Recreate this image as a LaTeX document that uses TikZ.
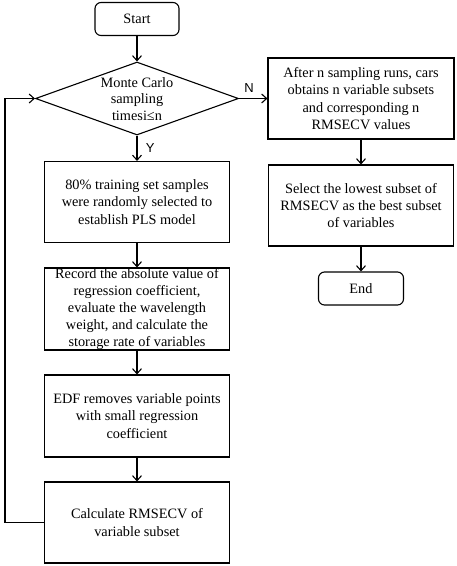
\documentclass[tikz,border=0pt]{standalone}
\usepackage{fontspec}
\setmainfont{Liberation Serif}
\newfontfamily\yesnofont{Liberation Sans}
\usetikzlibrary{calc,shapes,arrows.meta}
\tikzstyle{procbox}=[rectangle,draw=black,fill=white,line width=1.1pt,
                     minimum width=185pt,minimum height=81pt,inner sep=0pt,
                     align=center,font=\fontsize{14.3}{17.2}\selectfont]
\tikzstyle{termbox}=[rectangle,rounded corners=6pt,draw=black,fill=white,
                     line width=1.1pt,minimum width=84pt,minimum height=33pt,
                     font=\fontsize{14.3}{17.2}\selectfont]
\tikzstyle{decision}=[diamond,draw=black,fill=white,line width=1.1pt,
                      minimum width=203pt,minimum height=73pt,inner sep=0pt]
\tikzstyle{flow}=[-{Straight Barb[length=5pt,width=9pt]},line width=1.1pt]
\tikzstyle{yesno}=[font=\yesnofont\fontsize{13}{15}\selectfont]
\newcommand\leftcol{137}
\newcommand\rightcol{361}

\begin{document}
\begin{tikzpicture}[x=1pt,y=-1pt]
    \useasboundingbox (0,0) rectangle (457,566);
    % left column
    \node [termbox] (start) at (\leftcol,19) {Start};
    \node [decision] (mc) at (\leftcol,98.5) {};
    \node [align=center,font=\fontsize{14.3}{16.7}\selectfont] (mctext) at (\leftcol,99) {
        Monte Carlo\\sampling\\timesi≤n
    };
    \node [procbox] (sample) at (\leftcol,202) {
        80\% training set samples\\were randomly selected to\\establish PLS model
    };
    \node [procbox,minimum height=82pt,inner ysep=-4pt] (record) at (\leftcol,309) {
        Record the absolute value of\\regression coefficient,\\evaluate the wavelength\\weight, and calculate the\\storage rate of variables
    };
    \node [procbox,minimum height=82pt] (edf) at (\leftcol,416) {
        EDF removes variable points\\with small regression\\coefficient
    };
    \node [procbox] (rmsecv) at (\leftcol,522.5) {
        Calculate RMSECV of\\variable subset
    };
    % right column
    \node [procbox,minimum width=186pt] (after) at (\rightcol,98.5) {
        After n sampling runs, cars\\obtains n variable subsets\\and corresponding n\\RMSECV values
    };
    \node [procbox] (select) at (\rightcol,205.5) {
        Select the lowest subset of\\RMSECV as the best subset\\of variables
    };
    \node [termbox,minimum width=85pt] (end) at (\rightcol,288.5) {End};

    % connectors
    \draw [flow] (start) -- (mc);
    \draw [flow] (mc) -- (sample) node [yesno,midway,right=5pt] (yes) {Y};
    \draw [flow] (sample) -- (record);
    \draw [flow] (record) -- (edf);
    \draw [flow] (edf) -- (rmsecv);
    \draw [flow] (rmsecv.west) -- ++(-39,0) |- (mc.west);
    \draw [flow] (mc.east) -- (after.west) node [yesno,pos=0.35,above=2pt] (no) {N};
    \draw [flow] (after) -- (select);
    \draw [flow] (select) -- (end);
\end{tikzpicture}
\end{document}
